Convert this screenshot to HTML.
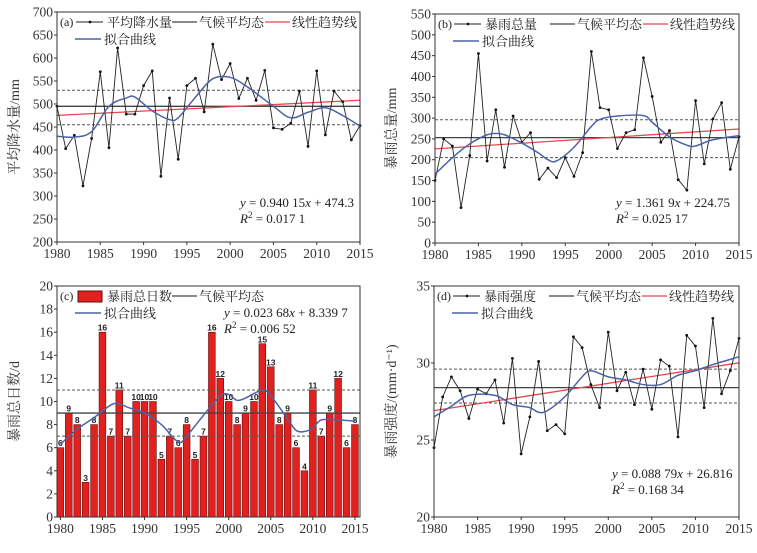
<!DOCTYPE html>
<html><head><meta charset="utf-8">
<style>
body{margin:0;background:#fff;}
svg{display:block;font-family:"Liberation Serif","Noto Serif CJK SC","Noto Sans CJK SC",serif;}
</style></head>
<body>
<svg id="c" width="757" height="553" viewBox="0 0 757 553"></svg>
<script>
const years = Array.from({length:36},(_,i)=>1980+i);
const xTicks = [1980,1985,1990,1995,2000,2005,2010,2015];
// Panel a
const precipValues = [495,403,432,322,425,570,405,622,478,478,540,572,343,513,380,540,556,483,630,553,588,512,556,508,573,448,445,458,528,408,572,433,528,505,422,453];
const precipFitYears = [1980,1982,1984,1986,1988,1989,1991,1993,1994,1996,1998,2000,2002,2005,2007,2009,2011,2013,2015];
const precipFitValues = [430,428,440,495,513,515,485,466,470,515,555,558,537,495,470,482,492,475,452];
const precipRefs = [495,530,455];
const precipTrend = [0.94015,474.3];
const precipYTicks = [200,250,300,350,400,450,500,550,600,650,700];
// Panel b
const stormValues = [150,250,233,85,210,455,197,320,182,305,242,265,153,180,157,205,160,217,460,325,320,227,265,272,445,352,242,270,152,127,342,190,298,337,177,255];
const stormFitYears = [1980,1982,1984,1986,1987,1988,1990,1992,1993,1994,1996,1998,1999,2001,2004,2005,2007,2009,2010,2012,2015];
const stormFitValues = [165,205,238,260,263,260,240,215,200,197,230,280,297,305,306,290,255,235,233,248,258];
const stormRefs = [253,296,205];
const stormTrend = [1.3619,224.75];
const stormYTicks = [0,50,100,150,200,250,300,350,400,450,500,550];
// Panel c
const dayValues = [6,9,8,3,8,16,7,11,7,10,10,10,5,7,6,8,5,7,16,12,10,8,9,10,15,13,8,9,6,4,11,7,9,12,6,8];
const dayFitYears = [1980,1982,1984,1986,1987,1988,1990,1992,1994,1995,1997,1999,2000,2001,2002,2004,2005,2007,2008,2009,2010,2011,2013,2015];
const dayFitValues = [6.3,7.6,8.6,9.7,9.8,9.5,9.0,8.0,6.5,7.0,8.8,10.5,10.6,10.1,10.3,11.0,10.5,8.5,7.5,7.4,7.7,8.4,8.4,8.3];
const dayRefs = [9,11,7];
const dayYTicks = [0,2,4,6,8,10,12,14,16,18,20];
// Panel d
const intValues = [24.5,27.8,29.1,28.2,26.4,28.3,28.0,28.9,26.1,30.3,24.1,26.5,30.1,25.6,26.0,25.4,31.7,31.0,28.6,27.1,32.0,28.2,29.4,27.3,29.6,27.0,30.2,29.8,25.2,31.8,31.1,27.1,32.9,28.0,29.5,31.6];
const intFitYears = [1980,1982,1984,1987,1989,1991,1992,1993,1995,1997,1998,2000,2002,2004,2006,2008,2010,2012,2015];
const intFitValues = [26.5,27.2,27.9,27.9,27.3,27.1,26.8,26.9,27.8,29.1,29.5,29.1,28.9,28.6,28.6,29.2,29.5,29.9,30.4];
const intRefs = [28.4,29.6,27.4];
const intTrend = [0.08879,26.816];
const intYTicks = [20,25,30,35];

const svg=document.getElementById('c');
const NS='http://www.w3.org/2000/svg';
function mk(tag,at,parent,txt){const e=document.createElementNS(NS,tag);for(const k in at)e.setAttribute(k,at[k]);if(txt!==undefined)e.textContent=txt;(parent||svg).appendChild(e);return e;}
function smooth(pts){let d='M'+pts[0][0]+','+pts[0][1];for(let i=0;i<pts.length-1;i++){const p0=pts[Math.max(0,i-1)],p1=pts[i],p2=pts[i+1],p3=pts[Math.min(pts.length-1,i+2)];const c1=[p1[0]+(p2[0]-p0[0])/6,p1[1]+(p2[1]-p0[1])/6],c2=[p2[0]-(p3[0]-p1[0])/6,p2[1]-(p3[1]-p1[1])/6];d+=` C${c1[0]},${c1[1]} ${c2[0]},${c2[1]} ${p2[0]},${p2[1]}`;}return d;}

function panel(cfg){
  const g=mk('g',{});
  
  
  const {L,R,T,B,ymin,ymax,x0,x1}=cfg;
  const X=v=>L+(v-x0)/(x1-x0)*(R-L);
  const Y=v=>B-(v-ymin)/(ymax-ymin)*(B-T);
  if(cfg.bars){cfg.values.forEach((v,i)=>{const cx=X(years[i]);const r=mk('rect',{x:cx-3.4,y:Y(v),width:6.8,height:B-Y(v),fill:'#e3201e',stroke:'#5a1010','stroke-width':0.6},g);
    
    
    const t=mk('text',{x:cx,y:Y(v)-1.5,'text-anchor':'middle','font-size':8.5,'font-weight':'bold','font-family':'Liberation Sans,sans-serif',fill:'#222'},g,String(v));
    
    
  });}
  const [m,u,l]=cfg.refs;
  mk('line',{x1:L,x2:R,y1:Y(m),y2:Y(m),stroke:'#444','stroke-width':1.3},g);
  [u,l].forEach(v=>{const ln=mk('line',{x1:L,x2:R,y1:Y(v),y2:Y(v),stroke:'#555','stroke-width':1,'stroke-dasharray':'3,2'},g);});
  if(cfg.trend){const a=cfg.trend[0],b=cfg.trend[1];const tl=mk('line',{x1:X(1980),y1:Y(b+a*1),x2:X(2015),y2:Y(b+a*36),stroke:'#e8474c','stroke-width':1.3},g);}
  if(!cfg.bars){const pts=cfg.values.map((v,i)=>[X(years[i]),Y(v)]);
    const pl=mk('polyline',{points:pts.map(p=>p.join(',')).join(' '),fill:'none',stroke:'#222','stroke-width':0.9},g);
    
    pts.forEach(p=>{const c=mk('circle',{cx:p[0],cy:p[1],r:1.4,fill:'#111'},g);});}
  const fp=cfg.fitY.map((y,i)=>[X(y),Y(cfg.fitV[i])]);
  const fc=mk('path',{d:smooth(fp),fill:'none',stroke:'#4a63a8','stroke-width':1.5},g);
  
  mk('rect',{x:L,y:T,width:R-L,height:B-T,fill:'none',stroke:'#333','stroke-width':1},g);
  cfg.yTicks.forEach(v=>{mk('line',{x1:L-3,x2:L,y1:Y(v),y2:Y(v),stroke:'#333'},g);
    const t=mk('text',{x:L-4,y:Y(v)+4.5,'text-anchor':'end','font-size':13.5,fill:'#333'},g,String(v));});
  xTicks.forEach(v=>{const xx=X(v);mk('line',{x1:xx,x2:xx,y1:B,y2:B+3,stroke:'#333'},g);
    const t=mk('text',{x:xx,y:B+16,'text-anchor':'middle','font-size':13.5,fill:'#333'},g,String(v));});
  const yt=mk('text',{x:0,y:0,transform:`translate(${cfg.titleX},${(T+B)/2}) rotate(-90)`,'text-anchor':'middle','font-size':14,fill:'#333'},g,cfg.title);
  
  const lg=mk('g',{'font-size':13,fill:'#222'},g);
  
  
  mk('text',{x:L+3,y:T+14,'font-size':12},lg,cfg.tag);
  const ly=T+10, ly2=T+27;
  if(cfg.bars){mk('rect',{x:L+21,y:ly-5,width:24,height:11,fill:'#e3201e',stroke:'#5a1010'},lg);}
  else{mk('line',{x1:L+19,x2:L+46,y1:ly,y2:ly,stroke:'#222'},lg);mk('circle',{cx:L+33,cy:ly,r:1.4,fill:'#111'},lg);}
  mk('text',{x:L+50,y:ly+5},lg,cfg.series);
  mk('line',{x1:L+115,x2:L+140,y1:ly,y2:ly,stroke:'#444','stroke-width':1.3},lg);
  mk('text',{x:L+142,y:ly+5},lg,'气候平均态');
  if(cfg.trend){mk('line',{x1:L+208,x2:L+233,y1:ly,y2:ly,stroke:'#e8474c','stroke-width':1.3},lg);mk('text',{x:L+235,y:ly+5},lg,'线性趋势线');}
  mk('line',{x1:L+18,x2:L+44,y1:ly2,y2:ly2,stroke:'#4a63a8','stroke-width':1.5},lg);
  mk('text',{x:L+47,y:ly2+5},lg,'拟合曲线');
  const eq=mk('text',{x:cfg.eqX,y:cfg.eqY,'font-size':13,fill:'#222'},g);
  
  eq.innerHTML=cfg.eq;
  const r2=mk('text',{x:cfg.eqX,y:cfg.eqY+16,'font-size':13,fill:'#222'},g);
  
  r2.innerHTML='<tspan font-style="italic">R</tspan><tspan dy="-5" font-size="9">2</tspan><tspan dy="5"> = '+cfg.r2+'</tspan>';
}
panel({name:'panel-a-precipitation',L:57,R:360,T:12,B:242,ymin:200,ymax:700,x0:1980,x1:2015,values:precipValues,fitY:precipFitYears,fitV:precipFitValues,refs:precipRefs,trend:precipTrend,yTicks:precipYTicks,title:'平均降水量/mm',titleX:19,tag:'(a)',series:'平均降水量',eqX:240,eqY:207,eq:'<tspan font-style="italic">y</tspan> = 0.940 15<tspan font-style="italic">x</tspan> + 474.3',r2:'0.017 1'});
panel({name:'panel-b-storm-total',L:435,R:739,T:14,B:243,ymin:0,ymax:550,x0:1980,x1:2015,values:stormValues,fitY:stormFitYears,fitV:stormFitValues,refs:stormRefs,trend:stormTrend,yTicks:stormYTicks,title:'暴雨总量/mm',titleX:396,tag:'(b)',series:'暴雨总量',eqX:616,eqY:207,eq:'<tspan font-style="italic">y</tspan> = 1.361 9<tspan font-style="italic">x</tspan> + 224.75',r2:'0.025 17'});
panel({name:'panel-c-storm-days',bars:true,L:57,R:360,T:286,B:517,ymin:0,ymax:20,x0:1979.6,x1:2015.6,values:dayValues,fitY:dayFitYears,fitV:dayFitValues,refs:dayRefs,trend:null,yTicks:dayYTicks,title:'暴雨总日数/d',titleX:19,tag:'(c)',series:'暴雨总日数',eqX:224,eqY:317,eq:'<tspan font-style="italic">y</tspan> = 0.023 68<tspan font-style="italic">x</tspan> + 8.339 7',r2:'0.006 52'});
panel({name:'panel-d-storm-intensity',L:434,R:739,T:286,B:517,ymin:20,ymax:35,x0:1980,x1:2015,values:intValues,fitY:intFitYears,fitV:intFitValues,refs:intRefs,trend:intTrend,yTicks:intYTicks,title:'暴雨强度/(mm·d⁻¹)',titleX:396,tag:'(d)',series:'暴雨强度',eqX:612,eqY:478,eq:'<tspan font-style="italic">y</tspan> = 0.088 79<tspan font-style="italic">x</tspan> + 26.816',r2:'0.168 34'});
</script>
</body></html>
